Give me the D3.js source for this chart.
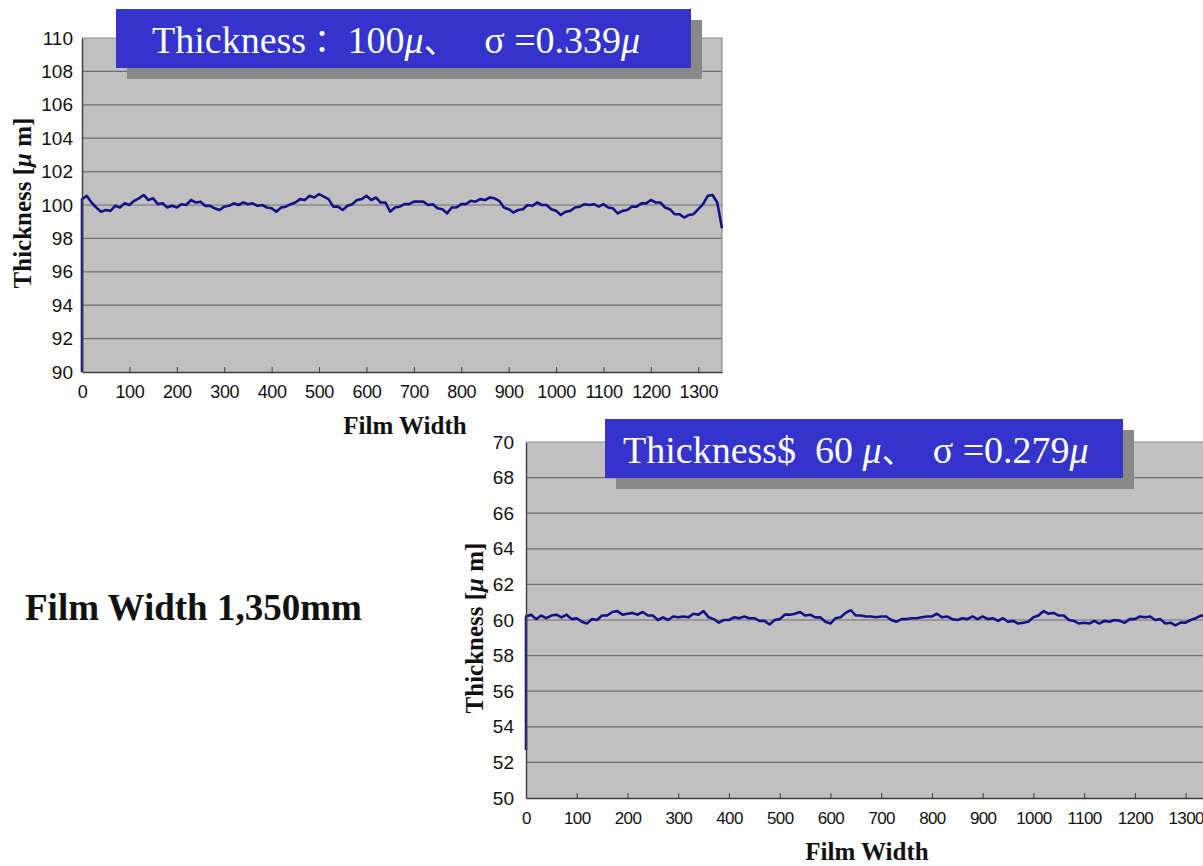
<!DOCTYPE html>
<html>
<head>
<meta charset="utf-8">
<script src="https://cdn.jsdelivr.net/npm/d3@7"></script>
<style>
  html, body { margin: 0; padding: 0; background: #ffffff; }
  svg { display: block; }
  text { white-space: pre; }
</style>
</head>
<body>
<svg id="chart" width="1203" height="866"></svg>
<script>
// ---------------- DATA ----------------
const widthTicks = [0,100,200,300,400,500,600,700,800,900,1000,1100,1200,1300];
const yTicksTop = [90,92,94,96,98,100,102,104,106,108,110];
const yTicksBottom = [50,52,54,56,58,60,62,64,66,68,70];

// 100 μm film: starting edge value, then thickness every 10 mm (0..1350)
const startTop = 90;
const thickness100 = [
  100.35,100.55,100.15,99.85,99.6,99.7,99.65,99.95,99.85,100.1,
  100.0,100.25,100.4,100.6,100.3,100.4,100.05,100.1,99.85,99.95,
  99.85,100.05,100.0,100.3,100.15,100.2,99.95,99.95,99.8,99.7,
  99.9,99.95,100.1,100.0,100.15,100.05,100.1,99.95,100.0,99.85,
  99.8,99.6,99.85,99.9,100.05,100.15,100.35,100.3,100.55,100.45,
  100.65,100.5,100.35,99.9,99.9,99.7,99.95,100.05,100.3,100.35,
  100.55,100.3,100.45,100.15,100.15,99.6,99.85,99.9,100.05,100.05,
  100.2,100.2,100.2,100.0,100.05,99.8,99.75,99.5,99.85,99.85,
  100.05,100.05,100.25,100.2,100.35,100.3,100.45,100.4,100.25,99.85,
  99.75,99.55,99.7,99.75,100.0,99.95,100.15,100.0,100.0,99.75,
  99.65,99.4,99.6,99.65,99.85,99.9,100.05,100.0,100.05,99.9,
  100.05,99.85,99.8,99.5,99.65,99.7,99.9,99.9,100.1,100.1,
  100.3,100.15,100.15,99.85,99.75,99.45,99.45,99.25,99.4,99.45,
  99.75,100.05,100.55,100.6,100.15,98.6
];

// 60 μm film
const startBottom = 52.7;
const thickness60 = [
  60.2,60.3,60.05,60.25,60.1,60.25,60.3,60.15,60.3,60.05,
  60.1,59.9,59.8,60.05,60.0,60.25,60.25,60.45,60.5,60.3,
  60.35,60.4,60.3,60.45,60.25,60.25,60.0,60.15,60.0,60.2,
  60.15,60.2,60.15,60.35,60.3,60.5,60.15,60.05,59.85,60.0,
  60.0,60.15,60.1,60.2,60.1,60.1,59.95,59.95,59.75,60.0,
  60.05,60.3,60.3,60.35,60.45,60.25,60.3,60.15,60.15,59.9,
  59.8,60.1,60.15,60.4,60.55,60.25,60.25,60.2,60.2,60.15,
  60.2,60.2,60.0,59.9,60.05,60.05,60.1,60.1,60.15,60.2,
  60.2,60.35,60.15,60.2,60.05,60.0,60.1,60.05,60.2,60.05,
  60.2,60.05,60.1,59.95,60.1,59.9,59.95,59.8,59.85,59.9,
  60.15,60.25,60.5,60.35,60.4,60.25,60.25,60.0,59.95,59.8,
  59.85,59.8,59.95,59.8,59.95,59.9,60.0,59.95,59.85,60.05,
  60.05,60.2,60.15,60.2,60.0,60.05,59.8,59.85,59.7,59.85,
  59.85,60.0,60.1,60.25,60.2,60.3
];

const sampleStep = 10; // mm between samples

// ---------------- DRAW ----------------
const svg = d3.select("#chart");

function panel(cfg) {
  const x = d3.scaleLinear().domain([0, 1350]).range([cfg.left, cfg.right]);
  const y = d3.scaleLinear().domain(cfg.yDomain).range([cfg.bottom, cfg.top]);
  const g = svg.append("g");

  g.append("rect")
    .attr("x", cfg.left).attr("y", cfg.top)
    .attr("width", cfg.right - cfg.left).attr("height", cfg.bottom - cfg.top)
    .attr("fill", "#c0c0c0");

  g.append("g").selectAll("line")
    .data(cfg.yTicks.slice(1, -1)).join("line")
    .attr("x1", cfg.left).attr("x2", cfg.right)
    .attr("y1", d => y(d)).attr("y2", d => y(d))
    .attr("stroke", "#6e6e6e").attr("stroke-width", 1.2);

  g.append("path")
    .attr("d", `M${cfg.left},${y(cfg.yDomain[1])}H${cfg.right}V${cfg.bottom}`)
    .attr("fill", "none").attr("stroke", "#8c8c8c").attr("stroke-width", 1.2);

  const pts = [[0, cfg.start]].concat(cfg.values.map((v, i) => [i * sampleStep, v]));
  g.append("path")
    .datum(pts)
    .attr("fill", "none")
    .attr("stroke", "#121288")
    .attr("stroke-width", 2.6)
    .attr("stroke-linejoin", "round")
    .attr("d", d3.line().x(d => x(d[0])).y(d => y(d[1])));

  const xAxis = g.append("g").attr("transform", `translate(0,${cfg.bottom})`)
    .call(d3.axisBottom(x).tickValues(cfg.xTicks).tickFormat(d3.format("d"))
      .tickSizeInner(-5).tickSizeOuter(0).tickPadding(cfg.xPad));
  xAxis.select(".domain").attr("stroke", "#3c3c3c").attr("stroke-width", 1.4);
  xAxis.selectAll(".tick line").attr("stroke", "#3c3c3c");
  xAxis.selectAll(".tick text")
    .attr("font-family", "Liberation Sans, Arial, sans-serif")
    .attr("font-size", cfg.xFont).attr("fill", "#111")
    .attr("letter-spacing", cfg.xSpacing);

  const yAxis = g.append("g").attr("transform", `translate(${cfg.left},0)`)
    .call(d3.axisLeft(y).tickValues(cfg.yTicks).tickSize(0).tickPadding(cfg.yPad));
  yAxis.select(".domain").attr("stroke", "#3c3c3c").attr("stroke-width", 1.4);
  yAxis.selectAll(".tick text")
    .attr("font-family", "Liberation Sans, Arial, sans-serif")
    .attr("font-size", cfg.yFont).attr("fill", "#111");

  const yt = g.append("text")
    .attr("transform", `translate(${cfg.yTitleX},${cfg.yTitleY}) rotate(-90)`)
    .attr("text-anchor", "middle")
    .attr("font-family", "Liberation Serif, Times New Roman, serif")
    .attr("font-weight", "bold").attr("font-size", 25).attr("fill", "#111");
  yt.append("tspan").text("Thickness [");
  yt.append("tspan").attr("font-style", "italic").text("μ");
  yt.append("tspan").text(" m]");

  g.append("text")
    .attr("x", cfg.xTitleX).attr("y", cfg.xTitleY)
    .attr("text-anchor", "middle")
    .attr("font-family", "Liberation Serif, Times New Roman, serif")
    .attr("font-weight", "bold").attr("font-size", 25).attr("fill", "#111")
    .text("Film Width");

  const b = cfg.box;
  g.append("rect").attr("x", b.x + 11).attr("y", b.y + 11).attr("width", b.w).attr("height", b.h).attr("fill", "#888888");
  g.append("rect").attr("x", b.x).attr("y", b.y).attr("width", b.w).attr("height", b.h).attr("fill", "#3434cc");
  const tt = g.append("text")
    .attr("x", b.tx).attr("y", b.ty)
    .attr("font-family", "Liberation Serif, Times New Roman, serif")
    .attr("font-size", 38).attr("fill", "#ffffff");
  cfg.titleParts.forEach(p => {
    const s = tt.append("tspan").text(p.t);
    if (p.i) s.attr("font-style", "italic");
    if (p.cjk) s.attr("font-family", "Noto Sans CJK JP, sans-serif").attr("font-size", 32);
  });
}

panel({
  left: 82, right: 722, top: 38, bottom: 372,
  yDomain: [90, 110], yTicks: yTicksTop, xTicks: widthTicks,
  values: thickness100, start: startTop,
  xFont: 18, xSpacing: -0.4, xPad: 13, yFont: 19, yPad: 9,
  yTitleX: 31, yTitleY: 203,
  xTitleX: 405, xTitleY: 434,
  box: { x: 116, y: 9, w: 575, h: 59, tx: 152, ty: 53 },
  titleParts: [
    { t: "Thickness" }, { t: "：", cjk: true }, { t: " 100" }, { t: "μ", i: true },
    { t: "、", cjk: true }, { t: "   σ =0.339" }, { t: "μ", i: true }
  ]
});

panel({
  left: 526, right: 1211, top: 442, bottom: 798,
  yDomain: [50, 70], yTicks: yTicksBottom, xTicks: widthTicks,
  values: thickness60, start: startBottom,
  xFont: 17, xSpacing: -0.6, xPad: 14, yFont: 19, yPad: 12,
  yTitleX: 483, yTitleY: 628,
  xTitleX: 867, xTitleY: 860,
  box: { x: 605, y: 419, w: 518, h: 59, tx: 623, ty: 463 },
  titleParts: [
    { t: "Thickness$  60 " }, { t: "μ", i: true },
    { t: "、", cjk: true }, { t: "  σ =0.279" }, { t: "μ", i: true }
  ]
});

svg.append("text")
  .attr("x", 25).attr("y", 620)
  .attr("font-family", "Liberation Serif, Times New Roman, serif")
  .attr("font-weight", "bold").attr("font-size", 37).attr("fill", "#111")
  .text("Film Width 1,350mm");
</script>
</body>
</html>
